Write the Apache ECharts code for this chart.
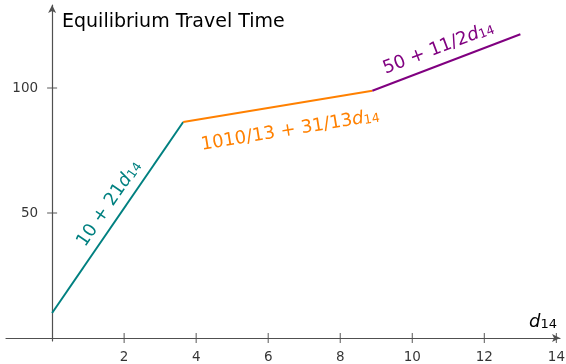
<!DOCTYPE html>
<html><head><meta charset="utf-8">
<script src="https://cdn.jsdelivr.net/npm/echarts@6/dist/echarts.min.js"></script>
<style>html,body{margin:0;padding:0;background:#fff}#c{width:566px;height:364px}</style>
</head><body><div id="c"></div>
<script>
// Piecewise equilibrium travel time vs d14 (breakpoints)
const tealX = [0, 3.64];
const tealY = [10, 86.4];
const orangeX = [3.64, 8.89];
const orangeY = [86.4, 98.9];
const purpleX = [8.89, 13];
const purpleY = [98.9, 121.5];
const xTicks = [2, 4, 6, 8, 10, 12, 14];
const yTicks = [50, 100];
const xTitle = 'd';
const xTitleSub = '14';
const yTitle = 'Equilibrium Travel Time';
const labels = ['10 + 21', '1010/13 + 31/13', '50 + 11/2'];

const FONT = '"DejaVu Sans"';
const AX = '#505050';
const pts = (xs, ys) => xs.map((x, i) => [x, ys[i]]);

const chart = echarts.init(document.getElementById('c'));
function lbl(txt, color) {
  return {
    text: '{n|' + txt + '}{i|d}{s|14}',
    rich: {
      n: {fontSize: 18, fontFamily: FONT, fill: color, lineHeight: 21, verticalAlign: 'bottom'},
      i: {fontSize: 18, fontFamily: FONT, fontStyle: 'italic', fill: color, lineHeight: 21, verticalAlign: 'bottom'},
      s: {fontSize: 12.5, fontFamily: FONT, fill: color, lineHeight: 10, verticalAlign: 'bottom'}
    },
    align: 'center', verticalAlign: 'middle'
  };
}
chart.setOption({
  animation: false,
  grid: {left: 6, right: 6, top: 5, bottom: 23, outerBoundsMode: 'none'},
  xAxis: {
    type: 'value', min: -1.28, max: 14.1,
    axisLine: {onZero: true, lineStyle: {color: AX, width: 1.2}, symbol: ['none', 'arrow'], symbolSize: [6, 8]},
    axisTick: {show: false}, splitLine: {show: false}, axisLabel: {show: false}
  },
  yAxis: {
    type: 'value', min: -1.2, max: 133.2,
    axisLine: {onZero: true, lineStyle: {color: AX, width: 1.2}, symbol: ['none', 'arrow'], symbolSize: [6, 8]},
    axisTick: {show: false}, splitLine: {show: false}, axisLabel: {show: false}
  },
  series: [
    {type: 'line', data: pts(tealX, tealY), showSymbol: false, lineStyle: {color: '#008080', width: 2}, silent: true},
    {type: 'line', data: pts(orangeX, orangeY), showSymbol: false, lineStyle: {color: '#ff8000', width: 2}, silent: true},
    {type: 'line', data: pts(purpleX, purpleY), showSymbol: false, lineStyle: {color: '#800080', width: 2}, silent: true},
    {type: 'scatter', data: xTicks.map(v => [v, 0]), symbol: 'rect', symbolSize: [1.2, 10], itemStyle: {color: AX}, silent: true,
     label: {show: true, position: 'bottom', distance: 7, formatter: p => String(p.value[0]), color: '#000', fontSize: 13.5, fontFamily: FONT}},
    {type: 'scatter', data: yTicks.map(v => [0, v]), symbol: 'rect', symbolSize: [10, 1.2], itemStyle: {color: AX}, silent: true,
     label: {show: true, position: 'left', distance: 9, formatter: p => String(p.value[1]), color: '#000', fontSize: 13.5, fontFamily: FONT}}
  ],
  graphic: [
    {type: 'text', x: 62, y: 22, style: {text: yTitle, fontSize: 19, fontFamily: FONT, fill: '#000', align: 'left', verticalAlign: 'middle'}},
    {type: 'text', x: 543, y: 321, style: {
      text: '{i|' + xTitle + '}{s|' + xTitleSub + '}',
      rich: {
        i: {fontSize: 18, fontFamily: FONT, fontStyle: 'italic', fill: '#000', lineHeight: 20, verticalAlign: 'bottom'},
        s: {fontSize: 13, fontFamily: FONT, fill: '#000', lineHeight: 9, verticalAlign: 'bottom'}
      }, align: 'center', verticalAlign: 'middle'}},
    {type: 'text', x: 108, y: 203, rotation: 55.6 * Math.PI / 180, style: lbl(labels[0], '#008080')},
    {type: 'text', x: 290, y: 129, rotation: 9.4 * Math.PI / 180, style: lbl(labels[1], '#ff8000')},
    {type: 'text', x: 438, y: 47, rotation: 20.9 * Math.PI / 180, style: lbl(labels[2], '#800080')}
  ]
});
</script>
</body></html>
